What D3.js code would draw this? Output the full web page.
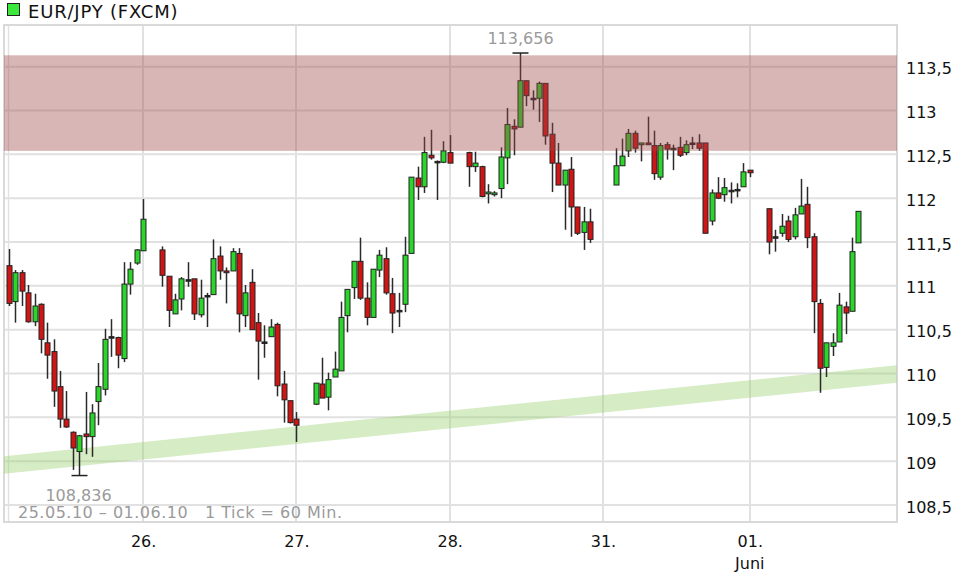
<!DOCTYPE html>
<html><head><meta charset="utf-8">
<script src="https://cdn.jsdelivr.net/npm/d3@7"></script>
<style>
html,body{margin:0;padding:0;background:#fff;}
svg{display:block;}
text{font-family:"DejaVu Sans",Verdana,sans-serif;}
</style></head>
<body>
<svg id="chart" width="975" height="577"></svg>
<script>
// ---- data ----
const title = "EUR/JPY (FXCM)";
const footer = "25.05.10 \u2013 01.06.10   1 Tick = 60 Min.";
const slots = [0,1,2,3,4,5,6,7,8,9,10,11,12,13,14,15,16,17,18,19,20,21,
  24,25,26,27,28,29,30,31,32,33,34,35,36,37,38,39,40,41,42,43,44,45,
  48,49,50,51,52,53,54,55,56,57,58,59,60,61,62,63,64,65,66,67,68,69,
  72,73,74,75,76,77,78,79,80,81,82,83,84,85,86,87,88,89,90,91,
  95,96,97,98,99,100,101,102,103,104,105,106,107,108,109,110,111,112,113,114,115,116,
  119,120,121,122,123,124,125,126,127,128,129,130,131,132,133];
const opens = [111.23,110.82,111.15,110.92,110.59,110.79,110.35,110.25,109.85,109.48,109.33,109.11,109.31,109.28,109.68,109.82,110.42,110.41,110.17,111.02,111.26,111.40,
  111.41,111.11,110.68,110.85,111.07,111.08,110.67,110.89,110.90,111.34,111.17,111.17,111.37,110.66,111.04,110.58,110.36,110.42,110.56,109.88,109.69,109.48,
  109.65,109.88,109.73,109.96,110.03,110.66,110.98,111.28,110.86,110.64,111.18,111.31,110.91,110.72,110.79,111.37,112.23,112.13,112.49,112.42,112.41,112.52,
  112.52,112.36,112.36,112.05,112.04,112.11,112.46,112.82,112.81,113.34,113.14,113.14,113.31,112.73,112.40,112.15,112.33,111.90,111.61,111.73,
  112.15,112.37,112.54,112.74,112.61,112.63,112.60,112.24,112.61,112.57,112.58,112.52,112.63,112.63,112.63,111.74,112.06,112.04,112.09,112.10,112.13,112.32,
  111.88,111.56,111.60,111.74,111.56,111.82,111.93,111.56,110.80,110.07,110.31,110.36,110.76,110.71,111.49];
const highs = [111.42,111.18,111.18,111.01,110.91,110.80,110.58,110.39,110.03,109.80,109.34,109.30,109.79,109.65,110.12,110.51,110.62,110.42,111.27,111.27,111.42,111.99,
  111.45,111.11,110.91,111.10,111.27,111.08,111.07,110.92,111.53,111.45,111.21,111.43,111.43,111.01,111.19,110.69,110.55,110.62,110.58,110.03,109.69,109.56,
  109.89,110.18,110.01,110.25,110.82,110.96,111.28,111.55,111.04,111.19,111.41,111.44,111.09,110.92,111.56,112.24,112.36,112.70,112.78,112.43,112.65,112.72,
  112.53,112.53,112.37,112.16,112.08,112.58,113.03,112.90,113.656,113.34,113.23,113.33,113.31,112.86,112.63,112.32,112.47,111.90,111.90,111.88,
  112.57,112.68,112.79,112.77,112.63,112.93,112.77,112.63,112.64,112.61,112.70,112.66,112.70,112.73,112.63,112.10,112.24,112.23,112.18,112.17,112.40,112.32,
  111.88,111.64,111.82,111.80,111.89,112.22,112.13,111.60,110.85,110.35,110.46,110.92,110.82,111.55,111.85];
const lows = [110.77,110.58,110.77,110.58,110.54,110.23,109.94,109.62,109.38,109.38,108.90,108.836,109.08,109.05,109.41,109.75,110.19,110.06,110.13,110.90,111.24,111.40,
  110.99,110.53,110.68,110.72,110.99,110.61,110.64,110.53,110.90,111.07,110.80,111.17,110.47,110.53,110.50,109.93,110.18,110.42,109.74,109.44,109.43,109.22,
  109.64,109.72,109.58,109.96,110.03,110.47,110.85,110.84,110.55,110.64,111.10,110.90,110.46,110.53,110.70,111.37,111.98,112.06,112.44,111.98,112.40,112.40,
  112.13,112.30,112.01,111.94,112.02,112.00,112.16,112.49,112.81,113.05,113.01,112.87,112.61,112.07,112.15,111.64,111.56,111.58,111.41,111.49,
  112.15,112.37,112.47,112.52,112.42,112.61,112.21,112.21,112.44,112.32,112.47,112.49,112.56,112.54,111.60,111.69,111.99,111.96,111.94,112.01,112.13,112.24,
  111.36,111.39,111.56,111.50,111.53,111.82,111.43,110.46,109.78,109.96,110.20,110.36,110.45,110.71,111.49];
const closes = [110.80,111.15,110.94,110.59,110.77,110.39,110.21,109.80,109.48,109.39,109.15,109.29,109.28,109.55,109.85,110.39,110.42,110.21,111.02,111.19,111.41,111.76,
  111.12,110.72,110.84,111.08,111.07,110.68,110.86,110.89,111.31,111.17,111.15,111.39,110.68,110.92,110.50,110.37,110.36,110.53,109.86,109.70,109.44,109.41,
  109.89,109.72,109.93,110.05,110.64,110.96,111.28,110.86,110.64,111.19,111.35,110.92,110.69,110.72,111.35,112.24,112.13,112.52,112.46,112.42,112.54,112.40,
  112.36,112.40,112.02,112.07,112.06,112.47,112.84,112.79,113.34,113.17,113.14,113.31,112.71,112.40,112.15,112.32,111.90,111.60,111.73,111.53,
  112.37,112.48,112.74,112.57,112.63,112.61,112.28,112.60,112.56,112.57,112.49,112.61,112.63,112.57,111.60,112.06,112.00,112.12,112.09,112.10,112.30,112.29,
  111.50,111.56,111.68,111.53,111.81,111.91,111.55,110.82,110.06,110.35,110.35,110.78,110.69,111.39,111.85];
const yTicks = [108.5,109,109.5,110,110.5,111,111.5,112,112.5,113,113.5];
const xTickSlots = [21,45,69,93,116];
const xTickLabels = ["26.","27.","28.","31.","01."];
const xTickSubLabels = ["","","","","Juni"];
const resistanceZone = [112.54,113.63];
const trendSlots = [-1,139];
const trendValues = [108.955,109.995];
const trendWidth = 0.2;

// ---- layout ----
const svg = d3.select("#chart");
const L = 4, R = 897, T = 25, B = 522;
const x = d3.scaleLinear().domain([0,133]).range([9,858.4]);
const y = d3.scaleLinear().domain([108.5,113.5]).range([505,66.7]);
const fmt = v => d3.format(".3f")(v).replace(".", ",");
const fmtTick = v => (Number.isInteger(v) ? String(v) : String(v).replace(".", ","));

const data = slots.map((s,i)=>({s,o:opens[i],h:highs[i],l:lows[i],c:closes[i]}));

svg.append("defs").append("clipPath").attr("id","plotclip")
  .append("rect").attr("x",L).attr("y",T).attr("width",R-L).attr("height",B-T);

// grid
const grid = svg.append("g");
grid.selectAll("line.h").data(yTicks).join("line")
  .attr("x1",L).attr("x2",R).attr("y1",d=>y(d)).attr("y2",d=>y(d))
  .attr("stroke","#e1e1e1").attr("stroke-width",2);
grid.selectAll("line.v").data(xTickSlots).join("line")
  .attr("x1",d=>Math.round(x(d))).attr("x2",d=>Math.round(x(d))).attr("y1",T).attr("y2",B)
  .attr("stroke","#e1e1e1").attr("stroke-width",2);
grid.append("line").attr("x1",L+4.5).attr("x2",L+4.5).attr("y1",T).attr("y2",B)
  .attr("stroke","#e1e1e1").attr("stroke-width",1.5);
svg.append("rect").attr("x",L).attr("y",T).attr("width",R-L).attr("height",B-T)
  .attr("fill","none").attr("stroke","#d9d9d9").attr("stroke-width",2);

// trend band (support)
const plot = svg.append("g").attr("clip-path","url(#plotclip)");
const tb = [
  [x(trendSlots[0]), y(trendValues[0]+trendWidth/2)],
  [x(trendSlots[1]), y(trendValues[1]+trendWidth/2)],
  [x(trendSlots[1]), y(trendValues[1]-trendWidth/2)],
  [x(trendSlots[0]), y(trendValues[0]-trendWidth/2)]
];
plot.append("path").attr("d", d3.line()(tb)+"Z")
  .attr("fill","rgb(150,207,110)").attr("fill-opacity",0.4);

// candles
const cg = plot.append("g");
const px = d => Math.round(x(d.s)) + 0.5;
cg.selectAll("line.w").data(data).join("line")
  .attr("x1",px).attr("x2",px).attr("y1",d=>y(d.h)).attr("y2",d=>y(d.l))
  .attr("stroke","#2a2a2a").attr("stroke-width",1.5);
cg.selectAll("rect.b").data(data).join("rect")
  .attr("x",d=>px(d)-2.5).attr("width",5)
  .attr("y",d=>y(Math.max(d.o,d.c)))
  .attr("height",d=>Math.max(1.5, Math.abs(y(d.o)-y(d.c))))
  .attr("fill",d=>d.c>d.o?"#2bd62b":(d.c<d.o?"#d01515":"#222"))
  .attr("stroke","#222").attr("stroke-width",1);

// high / low markers
const hi = data.reduce((a,b)=>b.h>a.h?b:a);
const lo = data.reduce((a,b)=>b.l<a.l?b:a);
svg.append("line").attr("x1",px(hi)-8).attr("x2",px(hi)+8).attr("y1",y(hi.h)).attr("y2",y(hi.h))
  .attr("stroke","#222").attr("stroke-width",1.5);
svg.append("line").attr("x1",px(lo)-8).attr("x2",px(lo)+8).attr("y1",y(lo.l)).attr("y2",y(lo.l))
  .attr("stroke","#222").attr("stroke-width",1.5);
svg.append("text").attr("x",px(hi)).attr("y",y(hi.h)-9).attr("text-anchor","middle")
  .attr("font-size",16).attr("fill","#9a9a9a").text(fmt(hi.h));
svg.append("text").attr("x",px(lo)-1).attr("y",y(lo.l)+25).attr("text-anchor","middle")
  .attr("font-size",16).attr("fill","#9a9a9a").text(fmt(lo.l));

// resistance zone (on top)
plot.append("rect").attr("x",L).attr("width",R-L)
  .attr("y",y(resistanceZone[1])).attr("height",y(resistanceZone[0])-y(resistanceZone[1]))
  .attr("fill","rgb(160,72,72)").attr("fill-opacity",0.4);

// footer
svg.append("text").attr("x",18).attr("y",518).attr("font-size",16).attr("fill","#9a9a9a")
  .style("white-space","pre").attr("letter-spacing",0.5).text(footer);

// y axis
const ya = svg.append("g").attr("transform",`translate(${R+9},2)`)
  .call(d3.axisRight(y).tickValues(yTicks).tickSize(0).tickPadding(0).tickFormat(fmtTick));
ya.select(".domain").remove();
ya.selectAll("text").attr("font-family","DejaVu Sans").attr("font-size",16).attr("fill","#111");

// x axis
const xa = svg.append("g").attr("transform",`translate(0,${B})`)
  .call(d3.axisBottom(x).tickValues(xTickSlots).tickSize(0).tickPadding(14)
    .tickFormat((d,i)=>xTickLabels[i]));
xa.select(".domain").remove();
xa.selectAll("text").attr("font-family","DejaVu Sans").attr("font-size",16).attr("fill","#111");
svg.selectAll("text.sub").data(xTickSlots).join("text").attr("class","sub")
  .attr("x",d=>x(d)).attr("y",569).attr("text-anchor","middle")
  .attr("font-size",16).attr("fill","#111").text((d,i)=>xTickSubLabels[i]);

// title
svg.append("rect").attr("x",7.5).attr("y",3.5).attr("width",12).attr("height",12)
  .attr("fill","#3be83b").attr("stroke","#222").attr("stroke-width",1);
svg.append("text").attr("x",28).attr("y",18).attr("font-size",18).attr("letter-spacing",0.8)
  .attr("fill","#111").text(title);
</script>
</body></html>
